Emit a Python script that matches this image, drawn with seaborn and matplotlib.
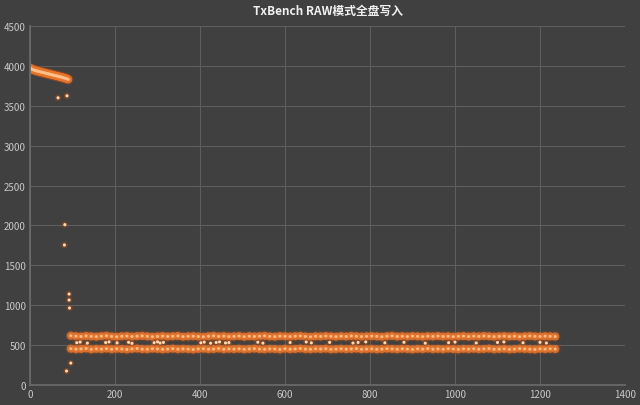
import numpy as np
import pandas as pd
import matplotlib
matplotlib.use("Agg")
import matplotlib.pyplot as plt
import seaborn as sns

# Head of the run: fast write before SLC cache runs out
head_x = [0, 3, 6, 9, 12, 15, 18, 21, 24, 27, 30, 33, 36, 39, 42, 45,
          48, 51, 54, 57, 60, 63, 66, 69, 72, 75, 78, 81, 84, 87, 90]
head_y = [3975, 3962, 3955, 3948, 3944, 3938, 3935, 3930, 3926, 3921, 3918,
          3914, 3910, 3905, 3902, 3898, 3893, 3890, 3886, 3881, 3878, 3874,
          3870, 3866, 3861, 3858, 3852, 3848, 3843, 3838, 3830]

# Drop-off points
drop_x = [66, 87, 82, 81, 92, 92, 93, 96, 86]
drop_y = [3600, 3625, 2010, 1755, 1140, 1065, 965, 275, 175]

# Steady state: two bands
band_x = list(range(96, 1240, 12))
top_y = [618, 612, 608, 615, 610, 606, 612, 617, 609, 604, 611, 614,
         607, 612, 616, 610, 605, 609, 613, 608, 611, 615, 606, 610,
         612, 608, 604, 611, 616, 609, 613, 607, 610, 614, 605, 611,
         608, 612, 616, 609, 606, 613, 610, 607, 612, 615, 608, 604,
         611, 609, 614, 610, 606, 612, 608, 615, 611, 607, 610, 613,
         609, 605, 612, 616, 608, 611, 607, 613, 610, 606, 612, 609,
         614, 608, 611, 605, 610, 613, 607, 612, 609, 615, 611, 606,
         610, 613, 608, 612, 605, 611, 614, 609, 607, 612, 610, 608]
bottom_y = [455, 449, 452, 458, 447, 453, 450, 456, 448, 454, 451, 446,
            453, 457, 450, 448, 455, 452, 447, 451, 456, 449, 453, 450,
            446, 452, 455, 449, 451, 457, 448, 453, 450, 454, 447, 452,
            456, 450, 448, 453, 451, 446, 455, 449, 452, 457, 450, 448,
            453, 451, 455, 447, 450, 454, 449, 452, 456, 448, 451, 453,
            447, 450, 455, 452, 448, 454, 451, 446, 453, 450, 456, 449,
            452, 448, 455, 451, 447, 453, 450, 454, 449, 452, 456, 448,
            451, 453, 447, 450, 455, 452, 449, 446, 453, 450, 454, 451]

# Occasional points between the bands
mid_x = [110, 118, 135, 178, 186, 205, 232, 240, 292, 300, 306, 314, 402,
         410, 425, 438, 446, 460, 468, 536, 548, 612, 650, 662, 705, 760,
         772, 790, 835, 880, 930, 985, 1000, 1050, 1100, 1115, 1160, 1200,
         1215]
mid_y = [530, 538, 525, 532, 540, 528, 535, 522, 530, 541, 526, 534, 529,
         537, 524, 533, 540, 527, 531, 536, 525, 532, 539, 528, 534, 526,
         533, 540, 529, 535, 524, 531, 538, 527, 533, 540, 529, 535, 526]

dense = pd.DataFrame({
    "t": head_x + band_x + band_x,
    "speed": head_y + top_y + bottom_y,
})
sparse = pd.DataFrame({
    "t": drop_x + mid_x,
    "speed": drop_y + mid_y,
})

bg = "#404040"
sns.set_theme(style="darkgrid", rc={
    "figure.facecolor": bg,
    "axes.facecolor": bg,
    "grid.color": "#5e5e5e",
    "grid.linewidth": 0.8,
    "axes.edgecolor": "#5e5e5e",
})
plt.rcParams["font.family"] = ["Noto Sans CJK SC", "DejaVu Sans"]

fig, ax = plt.subplots(figsize=(6.4, 4.06), dpi=100)
fig.subplots_adjust(left=30 / 640, right=625 / 640, top=1 - 27 / 406,
                    bottom=1 - 386 / 406)

# dense runs: glow layers + core
sns.scatterplot(data=dense, x="t", y="speed", ax=ax, s=60, color="#b4501c",
                alpha=0.25, edgecolor="none", legend=False)
sns.scatterplot(data=dense, x="t", y="speed", ax=ax, s=34, color="#e8762c",
                alpha=0.85, edgecolor="none", legend=False)
sns.scatterplot(data=dense, x="t", y="speed", ax=ax, s=5, color="#ffc08a",
                alpha=0.9, edgecolor="none", legend=False)

# isolated points: small bright dot, faint halo
sns.scatterplot(data=sparse, x="t", y="speed", ax=ax, s=22, color="#a8481a",
                alpha=0.45, edgecolor="none", legend=False)
sns.scatterplot(data=sparse, x="t", y="speed", ax=ax, s=5, color="#ffd9b0",
                edgecolor="none", legend=False)

ax.set_xlim(0, 1400)
ax.set_ylim(0, 4500)
ax.set_xticks(range(0, 1401, 200))
ax.set_yticks(range(0, 4501, 500))
ax.set_xlabel("")
ax.set_ylabel("")
ax.tick_params(colors="#c8c8c8", labelsize=7, length=0, pad=3)
for s in ["top", "right"]:
    ax.spines[s].set_visible(False)
for s in ["left", "bottom"]:
    ax.spines[s].set_color("#6a6a6a")

ax.set_title("TxBench RAW模式全盘写入", color="#f0f0f0", fontsize=8.5,
             fontweight="bold", pad=9)

plt.savefig("out.png", dpi=100, facecolor=bg)
plt.close()
